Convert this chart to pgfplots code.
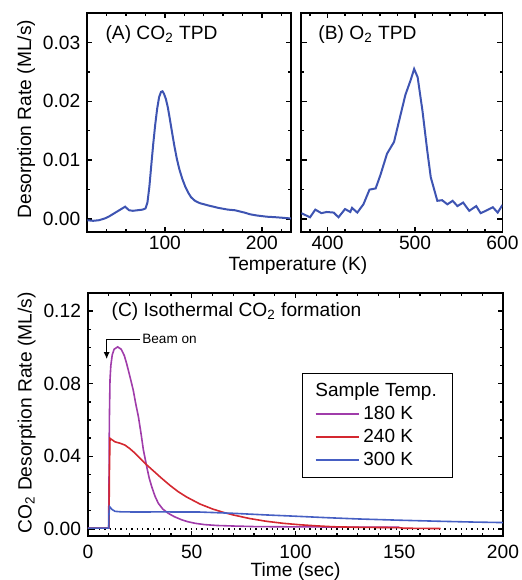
\documentclass[border=0pt]{standalone}
\usepackage{fontspec}
\setmainfont{Liberation Sans}
\usepackage{pgfplots}
\pgfplotsset{compat=1.18}
\usetikzlibrary{arrows.meta}

\definecolor{tpdblue}{RGB}{62,84,178}
\definecolor{c180}{RGB}{160,60,170}
\definecolor{c240}{RGB}{212,40,48}
\definecolor{c300}{RGB}{70,95,195}

\newcommand{\fs}{\fontsize{9.6}{11}\selectfont}

\pgfplotsset{
  panel/.style={
    scale only axis,
    axis line style={line width=0.9pt},
    tick style={line width=0.7pt, black},
    major tick length=2.6pt,
    minor tick length=1.4pt,
    tick align=inside,
    font=\fs,
    tick label style={font=\fs},
    label style={font=\fs},
    /pgf/number format/assume math mode=true,
    scaled ticks=false,
    yticklabel style={/pgf/number format/fixed,
      /pgf/number format/fixed zerofill,
      /pgf/number format/precision=2},
  }
}

\begin{document}
\begin{tikzpicture}
\useasboundingbox (0,0) rectangle (261pt,290pt);

% (A) CO2 TPD
\begin{axis}[panel,
  at={(43.65pt,174pt)}, anchor=south west,
  width=101.85pt, height=109.5pt,
  xmin=20, xmax=230, ymin=-0.0022, ymax=0.035,
  xtick={100,200}, minor xtick={40,60,80,120,140,160,180,220},
  ytick={0,0.01,0.02,0.03}, minor y tick num=1,
  xticklabel style={inner ysep=2pt},
  ylabel={Desorption Rate (ML/s)},
  ylabel style={at={(axis description cs:-0.30,0.516)}, anchor=center},
]
\addplot[tpdblue, line width=1pt] coordinates {
(20,-0.0002)(26,-0.0003)(32,-0.0002)(38,0.0001)(42,0.0004)(46,0.0008)
(50,0.0012)(54,0.0016)(57,0.0019)(59,0.0021)(61,0.0018)(63,0.0015)
(67,0.0014)(72,0.0015)(77,0.0016)(80,0.0018)(82,0.0028)(84,0.0055)
(86,0.0092)(88,0.0128)(90,0.016)(92,0.0187)(94,0.0207)(96,0.0216)
(97.5,0.0217)(99,0.0213)(101,0.0204)(103,0.019)(105,0.0171)(107.5,0.0146)
(110,0.0122)(112.5,0.0101)(115,0.0084)(118,0.0068)(121,0.0055)(124,0.0045)
(127,0.0037)(131,0.0031)(136,0.0027)(145,0.0023)(155,0.0019)(165,0.0016)
(172,0.0015)(177,0.0013)(182,0.0011)(188,0.0008)(195,0.0006)(205,0.0004)
(215,0.0003)(230,0.0001)
};
\node[anchor=west] at (rel axis cs:0.055,0.90) {(A) CO\textsubscript{2} TPD};
\end{axis}

% (B) O2 TPD
\begin{axis}[panel,
  at={(150.65pt,174pt)}, anchor=south west,
  width=100.6pt, height=109.5pt,
  xmin=370, xmax=600, ymin=-0.0022, ymax=0.035,
  xtick={400,500,600}, minor xtick={380,420,440,460,480,520,540,560,580},
  ytick={0,0.01,0.02,0.03}, minor y tick num=1,
  xticklabel style={inner ysep=2pt},
  yticklabels={},
]
\addplot[tpdblue, line width=1pt] coordinates {
(370,0.001)(380,0.0003)(386,0.0016)(393,0.001)(399,0.0012)(407,0.0011)
(412.5,0.0003)(420,0.0017)(426,0.0012)(428,0.0019)(434,0.0011)(441,0.0025)
(448,0.005)(455,0.0052)(460.5,0.0075)(468,0.0111)(476,0.0131)(481.5,0.0165)
(489,0.0211)(495,0.0236)(499,0.0255)(503,0.0241)(508.5,0.0184)(514,0.0116)
(518,0.0071)(525.5,0.0031)(531,0.0032)(537,0.0025)(543,0.0031)(548.5,0.0022)
(555,0.0028)(562,0.0014)(570,0.0022)(575,0.001)(581,0.0014)(589,0.002)
(594.5,0.0011)(600,0.0024)
};
\node[anchor=west] at (rel axis cs:0.05,0.90) {(B) O\textsubscript{2} TPD};
\end{axis}

\node[font=\fs, inner sep=0pt] at (149pt,157pt) {Temperature (K)};

% (C) isothermal CO2 formation
\begin{axis}[panel,
  at={(44pt,22pt)}, anchor=south west,
  width=207.5pt, height=121.5pt,
  xmin=0, xmax=200, ymin=-0.0039, ymax=0.13,
  xtick={0,50,100,150,200}, minor x tick num=4,
  ytick={0,0.04,0.08,0.12}, minor y tick num=3,
  xticklabel style={yshift=-0.8pt},
  xlabel={Time (sec)},
  xlabel style={at={(axis description cs:0.5,-0.146)}, anchor=center},
  ylabel={CO\textsubscript{2} Desorption Rate (ML/s)},
  ylabel style={at={(axis description cs:-0.148,0.506)}, anchor=center},
  legend style={at={(axis description cs:0.516,0.671)}, anchor=north west,
    draw=black, line width=0.65pt, inner xsep=6pt, inner ysep=3pt,
    row sep=0pt, font=\fontsize{9.5}{11.5}\selectfont,
    nodes={inner ysep=1pt, text height=7.5pt, text depth=2pt}},
  legend cell align=left,
  legend image code/.code={\draw[#1] (0pt,0pt) -- (21.5pt,0pt);},
]
\addplot[black, dotted, line width=0.7pt, forget plot] coordinates {(0,0)(200,0)};
\addlegendimage{empty legend}
\addlegendentry{\hspace*{-24pt}Sample Temp.}
\addplot[c180, line width=0.8pt] coordinates {
(0,0.0004)(5,0.0004)(9.9,0.0004)(10.1,0.02)(10.3,0.06)(10.6,0.082)(11,0.09)
(11.7,0.096)(12.6,0.099)(14.3,0.1003)(16,0.099)(17.5,0.0955)(18.6,0.0912)
(20.2,0.084)(21.8,0.0765)(23,0.069)(24.3,0.0618)(25.5,0.053)(26.7,0.0435)
(28.3,0.0343)(29.5,0.028)(30.7,0.0233)(32.3,0.018)(33.9,0.0141)(36,0.011)
(38.7,0.0086)(41.5,0.0068)(45.2,0.005)(48,0.004)(51.6,0.0031)(56,0.0024)
(62,0.0019)(70,0.0016)(80,0.0013)(90,0.0012)(110,0.0011)(130,0.001)(150,0.0009)
};
\addlegendentry{180 K}
\addplot[c240, line width=0.8pt] coordinates {
(0,0.0004)(5,0.0004)(10.1,0.0004)(10.3,0.03)(10.6,0.0499)(13,0.048)
(15.5,0.0472)(17.8,0.0462)(20.2,0.0442)(22.7,0.0417)(25,0.039)(27.5,0.0361)
(31.5,0.032)(35.5,0.0279)(39.5,0.024)(43.5,0.0205)(47.5,0.0176)(54,0.0137)
(60,0.011)(65,0.0092)(70,0.0077)(78,0.0057)(86,0.0042)(94,0.0031)(102,0.0023)
(110,0.0017)(118,0.0012)(130,0.0009)(140,0.0008)(150,0.0007)(152,0.0004)
(160,0.0003)(170,0.0002)
};
\addlegendentry{240 K}
\addplot[c300, line width=0.8pt] coordinates {
(0,0.0004)(5,0.0004)(10,0.0004)(10.1,0.008)(10.4,0.0123)(11.5,0.0108)
(13,0.0097)(16,0.0094)(25,0.0093)(35,0.0094)(45,0.0093)(54,0.0093)(70,0.0086)
(86,0.0077)(100,0.007)(115,0.0062)(130,0.0055)(150,0.0048)(170,0.0042)
(185,0.0038)(200,0.0035)
};
\addlegendentry{300 K}
\node[anchor=west] at (rel axis cs:0.04,0.925) {(C) Isothermal CO\textsubscript{2} formation};
\draw[line width=0.7pt, -{Latex[length=3.5pt,width=3pt]}]
  (axis cs:25,0.1045) -- (axis cs:9,0.1045) -- (axis cs:9,0.0935);
\node[anchor=west, inner sep=0.5pt, font=\fontsize{6.8}{8}\selectfont]
  at (axis cs:25.5,0.1045) {Beam on};
\end{axis}
\end{tikzpicture}
\end{document}
